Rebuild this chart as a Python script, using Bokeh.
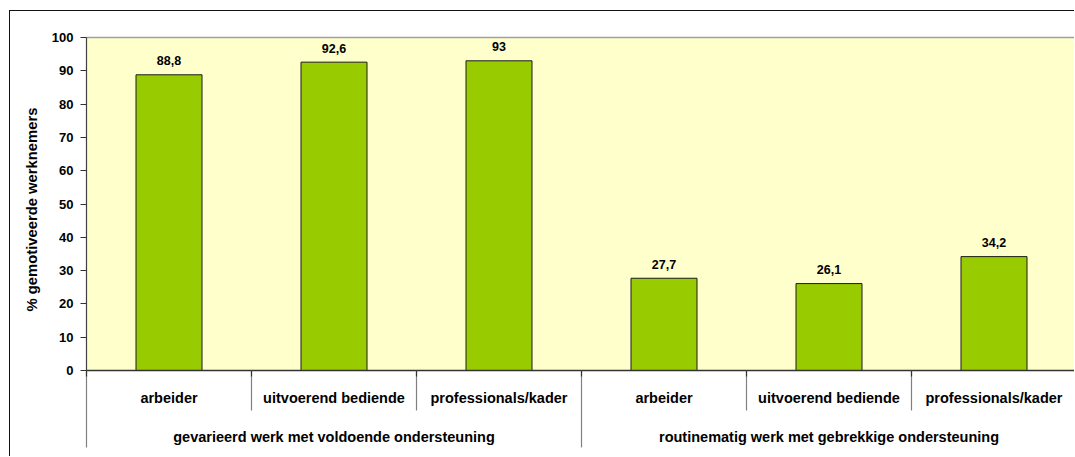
from bokeh.plotting import figure
from bokeh.models import ColumnDataSource, Range1d, FixedTicker, Title
from bokeh.core.properties import value
from bokeh.embed import file_html
from bokeh.resources import INLINE

# ---- data ----
groups = ["gevarieerd werk met voldoende ondersteuning",
          "routinematig werk met gebrekkige ondersteuning"]
categories = ["arbeider", "uitvoerend bediende", "professionals/kader",
              "arbeider", "uitvoerend bediende", "professionals/kader"]
values = [88.8, 92.6, 93.0, 27.7, 26.1, 34.2]
y_ticks = [0, 10, 20, 30, 40, 50, 60, 70, 80, 90, 100]
y_title = "% gemotiveerde werknemers"

FONT = "Liberation Sans"
PX_X = 165.0
PX_Y = 3.33

n = len(categories)
per_group = n // len(groups)
xs = [i + 0.5 for i in range(n)]
val_labels = [f"{v:g}".replace(".", ",") for v in values]

# page layout (page px)
MX, MY = 9, 10          # outer border position
BW = 1                  # border width
W = 1075 - MX - BW
H = 457 - MY - BW
frame_left_page, frame_top_page = 84, 35
left_b = frame_left_page - MX - BW
top_b = frame_top_page - MY - BW

x_start = -2 / PX_X
x_end = x_start + (W - left_b) / PX_X
y_end = 100 + 2 / PX_Y
y_start = y_end - (H - top_b) / PX_Y

p = figure(width=W, height=H, x_range=Range1d(x_start, x_end),
           y_range=Range1d(y_start, y_end), output_backend="svg",
           toolbar_location=None, min_border_left=left_b, min_border_top=top_b,
           min_border_right=0, min_border_bottom=0)
p.margin = (MY, 0, 0, MX)
p.styles = {"border-left": f"{BW}px solid #111111", "border-top": f"{BW}px solid #111111"}
p.xaxis.visible = False
p.grid.visible = False
p.outline_line_color = None
p.background_fill_color = "white"
p.border_fill_color = "white"

p.quad(left=[0], right=[n], bottom=[0], top=[100], fill_color="#FFFFCC", line_color=None)

src = ColumnDataSource(dict(x=xs, top=values, lab=val_labels, cat=categories))
p.vbar(x="x", top="top", bottom=0, width=0.4, source=src,
       fill_color="#99CC00", line_color="#1a1a1a", line_width=1)

p.text(x="x", y="top", text="lab", source=src, text_align="center",
       text_baseline="middle", y_offset=-14,
       text_font=value(FONT), text_font_style="bold", text_font_size="12.5px",
       text_color="black")

p.segment(x0=[0], y0=[100], x1=[n], y1=[100], line_color="#a0a0a0", line_width=1.5)
p.segment(x0=[0], y0=[0], x1=[0], y1=[100], line_color="#404040", line_width=1.2)
p.segment(x0=[0], y0=[0], x1=[n], y1=[0], line_color="#333333", line_width=1.5)

short_x = [i for i in range(n + 1) if i % per_group != 0]
long_x = [i for i in range(n + 1) if i % per_group == 0]
p.segment(x0=short_x, y0=[0] * len(short_x), x1=short_x, y1=[-12] * len(short_x),
          line_color="#808080", line_width=1.2)
p.segment(x0=long_x, y0=[0] * len(long_x), x1=long_x, y1=[-23.1] * len(long_x),
          line_color="#808080", line_width=1.2)
p.segment(x0=list(range(n + 1)), y0=[0] * (n + 1), x1=list(range(n + 1)),
          y1=[-1.8] * (n + 1), line_color="#333333", line_width=1.2)

p.text(x="x", y=-8.26, text="cat", source=src, text_align="center",
       text_baseline="middle", text_font=value(FONT), text_font_style="bold",
       text_font_size="14.5px", text_color="black")
gx = [g * per_group + per_group / 2 for g in range(len(groups))]
p.text(x=gx, y=[-19.97] * len(groups), text=groups, text_align="center",
       text_baseline="middle", text_font=value(FONT), text_font_style="bold",
       text_font_size="14.5px", text_color="black")

ax = p.yaxis[0]
ax.ticker = FixedTicker(ticks=y_ticks)
ax.axis_line_color = None
ax.major_tick_in = 2
ax.major_tick_out = 4
ax.major_tick_line_color = "#333333"
ax.major_tick_line_width = 1.2
ax.minor_tick_line_color = None
ax.major_label_standoff = 7
ax.major_label_text_font = FONT
ax.major_label_text_font_style = "bold"
ax.major_label_text_font_size = "13px"
ax.major_label_text_color = "black"

p.add_layout(Title(text=y_title, align="left", offset=457 - 311,
                   text_font=FONT, text_font_style="bold", text_font_size="14.8px",
                   text_color="black", standoff=18), "left")

open("out.html", "w").write(file_html(p, INLINE))
